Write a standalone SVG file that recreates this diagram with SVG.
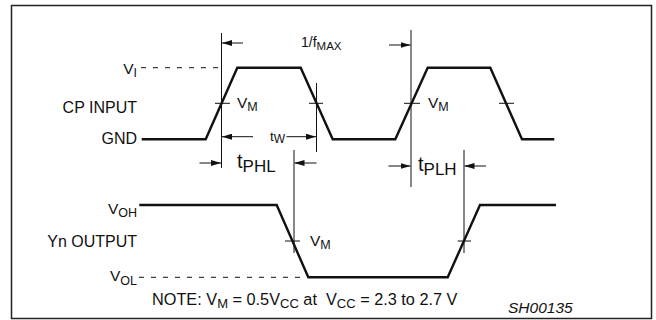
<svg xmlns="http://www.w3.org/2000/svg" width="656" height="320" viewBox="0 0 656 320">
<defs>
<marker id="ah" viewBox="0 0 10 6" refX="10" refY="3" markerWidth="10" markerHeight="6" markerUnits="userSpaceOnUse" orient="auto">
<path d="M0,0 L10,3 L0,6 Z" fill="#111"/>
</marker>
</defs>
<style>
text{font-family:"Liberation Sans",Arial,sans-serif;font-size:15.5px;fill:#111}
.sub{font-size:12.5px}
.wave{fill:none;stroke:#111;stroke-width:2.4;stroke-linejoin:miter}
.ref{stroke:#111;stroke-width:1;fill:none}
.dash{stroke:#111;stroke-width:1;stroke-dasharray:5 7;fill:none}
.arr{stroke:#111;stroke-width:1;fill:none;marker-end:url(#ah)}
.tick{stroke:#111;stroke-width:1}
</style>
<rect x="11.5" y="5.5" width="640" height="313" fill="#fff" stroke="#222" stroke-width="1.5"/>

<g id="labels">
<text x="137" y="74" text-anchor="end">V<tspan class="sub" dy="3">I</tspan></text>
<text x="137" y="113" text-anchor="end" style="font-size:16px">CP INPUT</text>
<text x="137" y="144" text-anchor="end" style="font-size:16px">GND</text>
<text x="137" y="214" text-anchor="end">V<tspan class="sub" dy="3">OH</tspan></text>
<text x="137" y="247" text-anchor="end" style="font-size:16px">Yn OUTPUT</text>
<text x="137" y="281" text-anchor="end">V<tspan class="sub" dy="4">OL</tspan></text>
</g>

<g id="cp-input">
<path class="dash" d="M141,67.7 H222"/>
<path class="wave" d="M141.7,139.3 H205.7 L237.3,67.7 H300.7 L332.7,139.3 H395.3 L427.7,67.7 H490.3 L522,139.3 H554.3"/>
<path class="tick" d="M215,103.3 H230 M309,103.3 H323 M404,103.3 H420 M499,103.3 H514"/>
<text x="237" y="108">V<tspan class="sub" dy="3">M</tspan></text>
<text x="428" y="108">V<tspan class="sub" dy="3">M</tspan></text>
</g>

<g id="yn-output">
<path class="dash" d="M139,277.3 H306"/>
<path class="wave" d="M139.3,205 H276.7 L308.3,277.3 H447.7 L480,205 H556"/>
<path class="tick" d="M285,241 H300 M457.7,241 H471"/>
<text x="310" y="246">V<tspan class="sub" dy="3">M</tspan></text>
</g>

<g id="connectors">
<path class="ref" d="M221.5,33 V168"/>
<path class="ref" d="M411,30 V187"/>
<path class="ref" d="M316.5,83 V152"/>
<path class="ref" d="M294,150 V253"/>
<path class="ref" d="M464,150 V253"/>
<path class="arr" d="M243,43 H222"/>
<path class="arr" d="M389,45 H410.5"/>
<path class="arr" d="M253,136.7 H222"/>
<path class="arr" d="M286.5,136.7 H316"/>
<path class="arr" d="M199.5,163 H221"/>
<path class="arr" d="M316.5,163 H294.5"/>
<path class="arr" d="M388.5,166 H410.5"/>
<path class="arr" d="M486,166 H464.5"/>
</g>

<g id="timing-labels">
<text x="301" y="47" style="font-size:14px">1/f<tspan style="font-size:11.5px" dy="3">MAX</tspan></text>
<text x="270" y="141" style="font-size:13.5px">t<tspan style="font-size:12px" dy="2">W</tspan></text>
<text x="237" y="168" style="font-size:20px">t<tspan dy="4" style="font-size:17px">PHL</tspan></text>
<text x="418" y="171" style="font-size:20px">t<tspan dy="4" style="font-size:17px">PLH</tspan></text>
</g>

<g id="notes">
<text x="152" y="305" xml:space="preserve" style="font-size:16.3px">NOTE: V<tspan style="font-size:13px" dy="3">M</tspan><tspan dy="-3"> = 0.5V</tspan><tspan style="font-size:13px" dy="3">CC</tspan><tspan dy="-3"> at  V</tspan><tspan style="font-size:13px" dy="3">CC</tspan><tspan dy="-3"> = 2.3 to 2.7 V</tspan></text>
<text x="508" y="313" style="font-size:15.5px;font-style:italic">SH00135</text>
</g>
</svg>
